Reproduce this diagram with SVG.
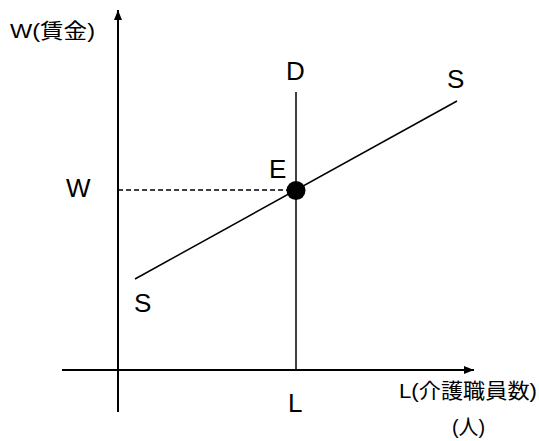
<svg xmlns="http://www.w3.org/2000/svg" width="539" height="441" viewBox="0 0 539 441">
<style>
.t{font-family:"Liberation Sans","Noto Sans CJK JP",sans-serif;fill:#000}
.big{font-size:26px}
.lab{font-size:21px}
.ln{stroke:#000;stroke-width:1.5;fill:none}
.ax{stroke:#000;stroke-width:2;fill:none}
</style>
<defs>
<marker id="ah" viewBox="0 0 10 8" refX="10" refY="4" markerWidth="10" markerHeight="8" markerUnits="userSpaceOnUse" orient="auto">
<path d="M0,0 L10,4 L0,8 Z" fill="#000"/>
</marker>
</defs>
<g id="connectors">
<line id="y-axis" class="ax" x1="118" y1="412" x2="118" y2="10" marker-end="url(#ah)"/>
<line id="x-axis" class="ax" x1="62" y1="370" x2="474" y2="370" marker-end="url(#ah)"/>
<line id="demand" class="ln" x1="296" y1="92" x2="296" y2="370"/>
<line id="supply" class="ln" x1="135" y1="279" x2="457" y2="101"/>
<line id="wage-dash" class="ln" x1="118" y1="190" x2="296" y2="190" stroke-dasharray="5 3"/>
</g>
<g id="E-point">
<circle cx="296" cy="190.5" r="9.5" fill="#000"/>
<text class="t big" x="269" y="178">E</text>
</g>
<g id="labels">
<text class="t lab" x="10" y="38" textLength="85" lengthAdjust="spacingAndGlyphs">W(賃金)</text>
<text class="t big" x="66" y="197">W</text>
<text class="t big" x="286" y="80">D</text>
<text class="t big" x="447" y="88">S</text>
<text class="t big" x="134" y="312">S</text>
<text class="t big" x="288" y="412">L</text>
<text class="t lab" x="399" y="398" textLength="138" lengthAdjust="spacingAndGlyphs">L(介護職員数)</text>
<text class="t lab" x="452" y="434" textLength="33" lengthAdjust="spacingAndGlyphs">(人)</text>
</g>
</svg>
